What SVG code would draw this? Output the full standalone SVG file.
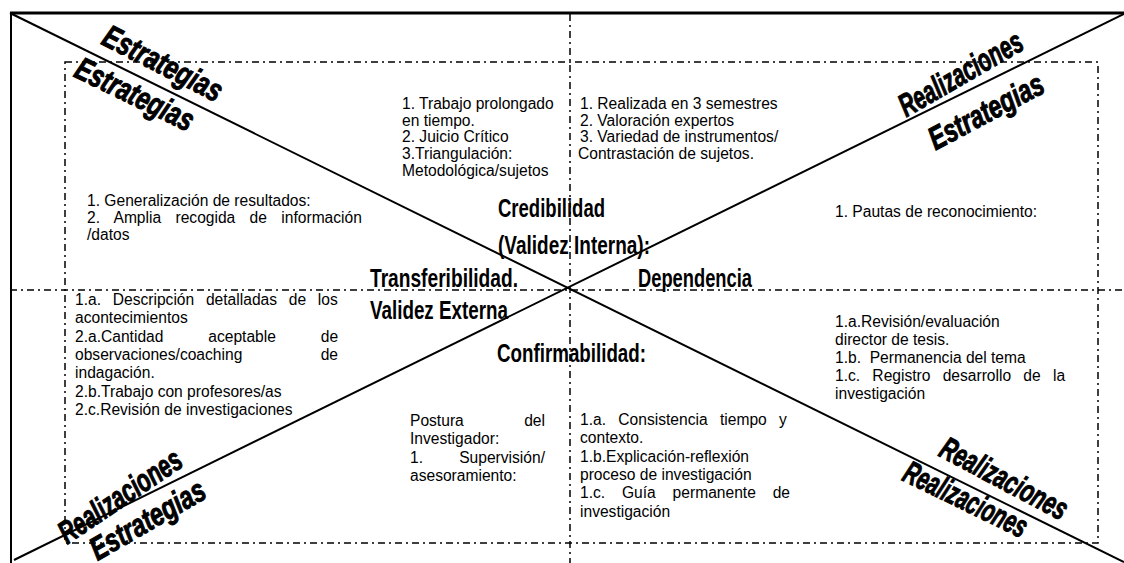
<svg xmlns="http://www.w3.org/2000/svg" width="1124" height="563" viewBox="0 0 1124 563">
<style>
.bg{fill:#ffffff}
.solid{stroke:#000;fill:none;stroke-width:2}
.thick{stroke:#000;fill:none;stroke-width:3}
.dd{stroke:#000;fill:none;stroke-width:1.5;stroke-dasharray:7,4,2,4}
.t{font-family:"Liberation Sans",Arial,sans-serif;font-size:15.6px;fill:#000}
.h{font-family:"Liberation Sans Narrow","Liberation Sans",Arial,sans-serif;font-size:26px;font-weight:bold;fill:#000}
.big{font-family:"Liberation Sans Narrow","Liberation Sans",Arial,sans-serif;font-size:32px;font-weight:bold;font-style:italic;fill:#000;stroke:#000;stroke-width:1;text-anchor:middle}
</style>
<rect class="bg" x="0" y="0" width="1124" height="563"/>
<g id="connectors">
<line class="thick" x1="10" y1="13" x2="1124" y2="13"/>
<line class="solid" x1="11" y1="13" x2="11" y2="563"/>
<line class="dd" x1="10" y1="290" x2="1124" y2="290"/>
<line class="dd" x1="570" y1="14" x2="570" y2="563"/>
<rect class="dd" x="65" y="62" width="1033" height="481"/>
<line class="solid" x1="10" y1="13" x2="1124" y2="562"/>
<line class="solid" x1="1124" y1="14" x2="14" y2="560"/>
</g>
<g id="corner-tl">
<text class="big" transform="translate(158,73) rotate(27)" textLength="130" lengthAdjust="spacingAndGlyphs">Estrategias</text>
<text class="big" transform="translate(130,104) rotate(26)" textLength="128" lengthAdjust="spacingAndGlyphs">Estrategias</text>
</g>
<g id="corner-tr">
<text class="big" transform="translate(966,83) rotate(-30)" textLength="138" lengthAdjust="spacingAndGlyphs">Realizaciones</text>
<text class="big" transform="translate(991,121) rotate(-28)" textLength="126" lengthAdjust="spacingAndGlyphs">Estrategias</text>
</g>
<g id="corner-bl">
<text class="big" transform="translate(126,505) rotate(-34)" textLength="142" lengthAdjust="spacingAndGlyphs">Realizaciones</text>
<text class="big" transform="translate(153,529) rotate(-30)" textLength="128" lengthAdjust="spacingAndGlyphs">Estrategias</text>
</g>
<g id="corner-br">
<text class="big" transform="translate(999,488) rotate(28)" textLength="140" lengthAdjust="spacingAndGlyphs">Realizaciones</text>
<text class="big" transform="translate(961,509) rotate(26)" textLength="134" lengthAdjust="spacingAndGlyphs">Realizaciones</text>
</g>
<g id="center-labels">
<text class="h" x="498" y="217" textLength="107" lengthAdjust="spacingAndGlyphs">Credibilidad</text>
<text class="h" x="498" y="254" textLength="152" lengthAdjust="spacingAndGlyphs">(Validez Interna):</text>
<text class="h" x="370" y="287" textLength="148" lengthAdjust="spacingAndGlyphs">Transferibilidad.</text>
<text class="h" x="638" y="287" textLength="114" lengthAdjust="spacingAndGlyphs">Dependencia</text>
<text class="h" x="370" y="319" textLength="138" lengthAdjust="spacingAndGlyphs">Validez Externa</text>
<text class="h" x="497" y="362" textLength="149" lengthAdjust="spacingAndGlyphs">Confirmabilidad:</text>
</g>
<g id="block-transfer-strategies">
<text class="t" x="87" y="206">1. Generalización de resultados:</text>
<text class="t" x="87" y="223" word-spacing="10">2. Amplia recogida de información</text>
<text class="t" x="87" y="240">/datos</text>
</g>
<g id="block-cred-strategies">
<text class="t" x="402" y="109">1. Trabajo prolongado</text>
<text class="t" x="402" y="126">en tiempo.</text>
<text class="t" x="402" y="142">2. Juicio Crítico</text>
<text class="t" x="402" y="159">3.Triangulación:</text>
<text class="t" x="402" y="176">Metodológica/sujetos</text>
</g>
<g id="block-cred-realizations">
<text class="t" x="580" y="109">1. Realizada en 3 semestres</text>
<text class="t" x="580" y="126">2. Valoración expertos</text>
<text class="t" x="580" y="142">3. Variedad de instrumentos/</text>
<text class="t" x="578" y="159">Contrastación de sujetos.</text>
</g>
<g id="block-dep-strategies">
<text class="t" x="835" y="217">1. Pautas de reconocimiento:</text>
</g>
<g id="block-transfer-realizations">
<text class="t" x="75" y="305" word-spacing="7.4">1.a. Descripción detalladas de los</text>
<text class="t" x="75" y="323">acontecimientos</text>
<text class="t" x="75" y="342" word-spacing="40.5">2.a.Cantidad aceptable de</text>
<text class="t" x="75" y="360">observaciones/coaching</text>
<text class="t" x="338" y="360" text-anchor="end">de</text>
<text class="t" x="75" y="378">indagación.</text>
<text class="t" x="75" y="397">2.b.Trabajo con profesores/as</text>
<text class="t" x="75" y="415">2.c.Revisión de investigaciones</text>
</g>
<g id="block-conf-strategies">
<text class="t" x="410" y="426">Postura</text>
<text class="t" x="545" y="426" text-anchor="end">del</text>
<text class="t" x="410" y="444">Investigador:</text>
<text class="t" x="410" y="463">1.</text>
<text class="t" x="545" y="463" text-anchor="end">Supervisión/</text>
<text class="t" x="410" y="481">asesoramiento:</text>
</g>
<g id="block-conf-realizations">
<text class="t" x="580" y="425" word-spacing="8">1.a. Consistencia tiempo y</text>
<text class="t" x="580" y="443">contexto.</text>
<text class="t" x="580" y="462">1.b.Explicación-reflexión</text>
<text class="t" x="580" y="480">proceso de investigación</text>
<text class="t" x="580" y="498" word-spacing="12.5">1.c. Guía permanente de</text>
<text class="t" x="580" y="517">investigación</text>
</g>
<g id="block-dep-realizations">
<text class="t" x="835" y="327">1.a.Revisión/evaluación</text>
<text class="t" x="835" y="345">director de tesis.</text>
<text class="t" x="835" y="363" style="white-space:pre">1.b.  Permanencia del tema</text>
<text class="t" x="835" y="381" word-spacing="7.9">1.c. Registro desarrollo de la</text>
<text class="t" x="835" y="399">investigación</text>
</g>
</svg>
